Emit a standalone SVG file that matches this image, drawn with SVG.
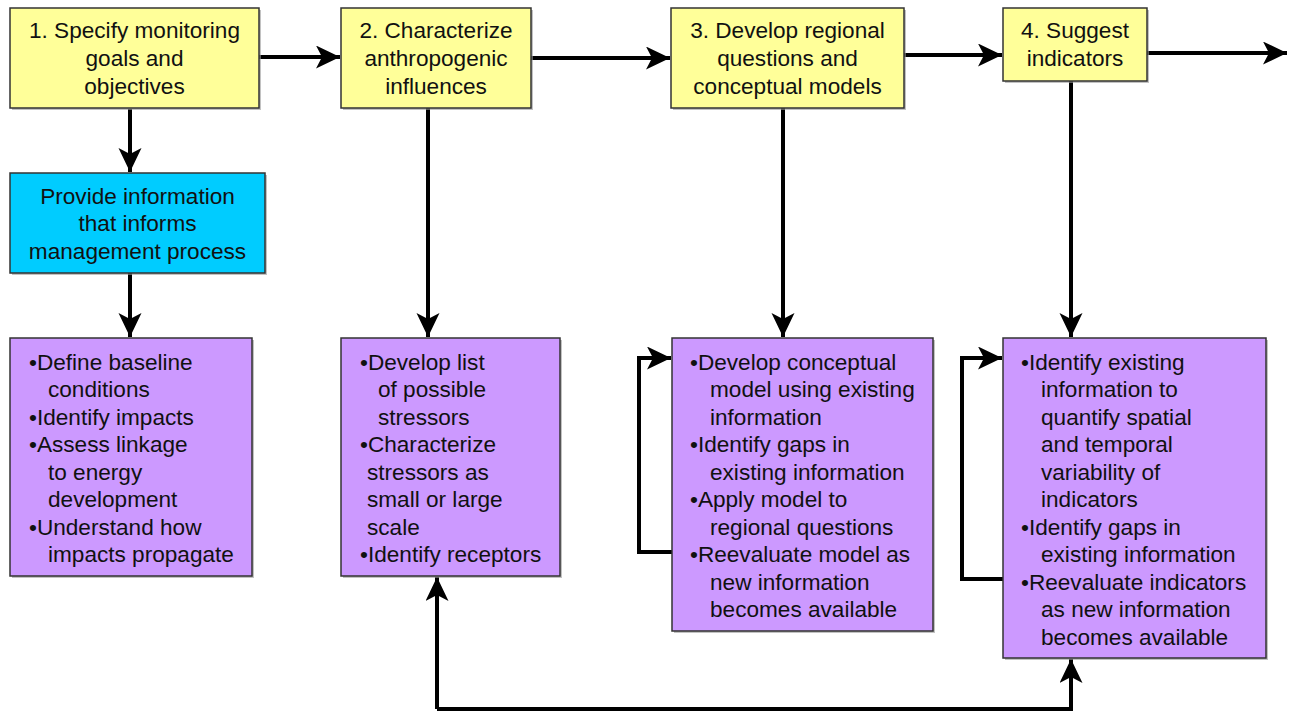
<svg xmlns="http://www.w3.org/2000/svg" width="1295" height="712" viewBox="0 0 1295 712">
<style>
text{font-family:"Liberation Sans",Arial,sans-serif;font-size:22.6px;fill:#111}
.c{text-anchor:middle}
.box{stroke:#333;stroke-width:1.5}
.sh{fill:#999;opacity:0.6}
.y{fill:#FFFF99}
.b{fill:#00CCFF}
.p{fill:#CC99FF}
.ln{fill:none;stroke:#000;stroke-width:4}
</style>
<defs>
<marker id="ah" markerUnits="userSpaceOnUse" markerWidth="26" markerHeight="24" refX="24" refY="11.5" orient="auto" viewBox="0 0 26 24">
<path d="M0,0 L24,11.5 L0,23 L6,11.5 z" fill="#000"/>
</marker>
</defs>
<g id="connectors">
<line class="ln" x1="259" y1="57" x2="340" y2="57" marker-end="url(#ah)"/>
<line class="ln" x1="531" y1="58" x2="670" y2="58" marker-end="url(#ah)"/>
<line class="ln" x1="904" y1="55" x2="1002" y2="55" marker-end="url(#ah)"/>
<line class="ln" x1="1147" y1="53" x2="1287" y2="53" marker-end="url(#ah)"/>
<line class="ln" x1="130" y1="109" x2="130" y2="172" marker-end="url(#ah)"/>
<line class="ln" x1="130" y1="273" x2="130" y2="337" marker-end="url(#ah)"/>
<line class="ln" x1="428" y1="108" x2="428" y2="337" marker-end="url(#ah)"/>
<line class="ln" x1="783" y1="108" x2="783" y2="337" marker-end="url(#ah)"/>
<line class="ln" x1="1071" y1="81" x2="1071" y2="337" marker-end="url(#ah)"/>
<path class="ln" d="M672,552 H639 V358 H671" marker-end="url(#ah)"/>
<path class="ln" d="M1003,579 H962 V358 H1002" marker-end="url(#ah)"/>
<path class="ln" d="M437,709 H1071 V659" marker-end="url(#ah)"/>
<path class="ln" d="M437,709 V577" marker-end="url(#ah)"/>
</g>
<g id="n1">
<rect class="sh" x="12" y="10" width="249" height="100"/>
<rect class="box y" x="10" y="8" width="249" height="100"/>
<text class="c" x="134.5" y="38">1. Specify monitoring</text>
<text class="c" x="134.5" y="66">goals and</text>
<text class="c" x="134.5" y="93.5">objectives</text>
</g>
<g id="n2">
<rect class="sh" x="343" y="10" width="190" height="100"/>
<rect class="box y" x="341" y="8" width="190" height="100"/>
<text class="c" x="436" y="38">2. Characterize</text>
<text class="c" x="436" y="66">anthropogenic</text>
<text class="c" x="436" y="93.5">influences</text>
</g>
<g id="n3">
<rect class="sh" x="673" y="10" width="233" height="100"/>
<rect class="box y" x="671" y="8" width="233" height="100"/>
<text class="c" x="787.5" y="38">3. Develop regional</text>
<text class="c" x="787.5" y="66">questions and</text>
<text class="c" x="787.5" y="93.5">conceptual models</text>
</g>
<g id="n4">
<rect class="sh" x="1005" y="10" width="144" height="73"/>
<rect class="box y" x="1003" y="8" width="144" height="73"/>
<text class="c" x="1075" y="38">4. Suggest</text>
<text class="c" x="1075" y="66">indicators</text>
</g>
<g id="n5">
<rect class="sh" x="12" y="175" width="255" height="100"/>
<rect class="box b" x="10" y="173" width="255" height="100"/>
<text class="c" x="137.5" y="204">Provide information</text>
<text class="c" x="137.5" y="231">that informs</text>
<text class="c" x="137.5" y="258.5">management process</text>
</g>
<g id="n6">
<rect class="sh" x="12" y="340" width="242" height="238"/>
<rect class="box p" x="10" y="338" width="242" height="238"/>
<text x="29" y="370">•Define baseline</text>
<text x="48" y="397">conditions</text>
<text x="29" y="425">•Identify impacts</text>
<text x="29" y="452">•Assess linkage</text>
<text x="48" y="480">to energy</text>
<text x="48" y="507">development</text>
<text x="29" y="535">•Understand how</text>
<text x="48" y="562">impacts propagate</text>
</g>
<g id="n7">
<rect class="sh" x="343" y="340" width="219" height="238"/>
<rect class="box p" x="341" y="338" width="219" height="238"/>
<text x="360" y="370">•Develop list</text>
<text x="378" y="397">of possible</text>
<text x="378" y="425">stressors</text>
<text x="360" y="452">•Characterize</text>
<text x="367" y="480">stressors as</text>
<text x="367" y="507">small or large</text>
<text x="367" y="535">scale</text>
<text x="360" y="562">•Identify receptors</text>
</g>
<g id="n8">
<rect class="sh" x="674" y="340" width="261" height="293"/>
<rect class="box p" x="672" y="338" width="261" height="293"/>
<text x="690" y="370">•Develop conceptual</text>
<text x="710" y="397">model using existing</text>
<text x="710" y="425">information</text>
<text x="690" y="452">•Identify gaps in</text>
<text x="710" y="480">existing information</text>
<text x="690" y="507">•Apply model to</text>
<text x="710" y="535">regional questions</text>
<text x="690" y="562">•Reevaluate model as</text>
<text x="710" y="590">new information</text>
<text x="710" y="617">becomes available</text>
</g>
<g id="n9">
<rect class="sh" x="1005" y="340" width="263" height="320"/>
<rect class="box p" x="1003" y="338" width="263" height="320"/>
<text x="1021" y="370">•Identify existing</text>
<text x="1041" y="397">information to</text>
<text x="1041" y="425">quantify spatial</text>
<text x="1041" y="452">and temporal</text>
<text x="1041" y="480">variability of</text>
<text x="1041" y="507">indicators</text>
<text x="1021" y="535">•Identify gaps in</text>
<text x="1041" y="562">existing information</text>
<text x="1021" y="590">•Reevaluate indicators</text>
<text x="1041" y="617">as new information</text>
<text x="1041" y="645">becomes available</text>
</g>
</svg>
